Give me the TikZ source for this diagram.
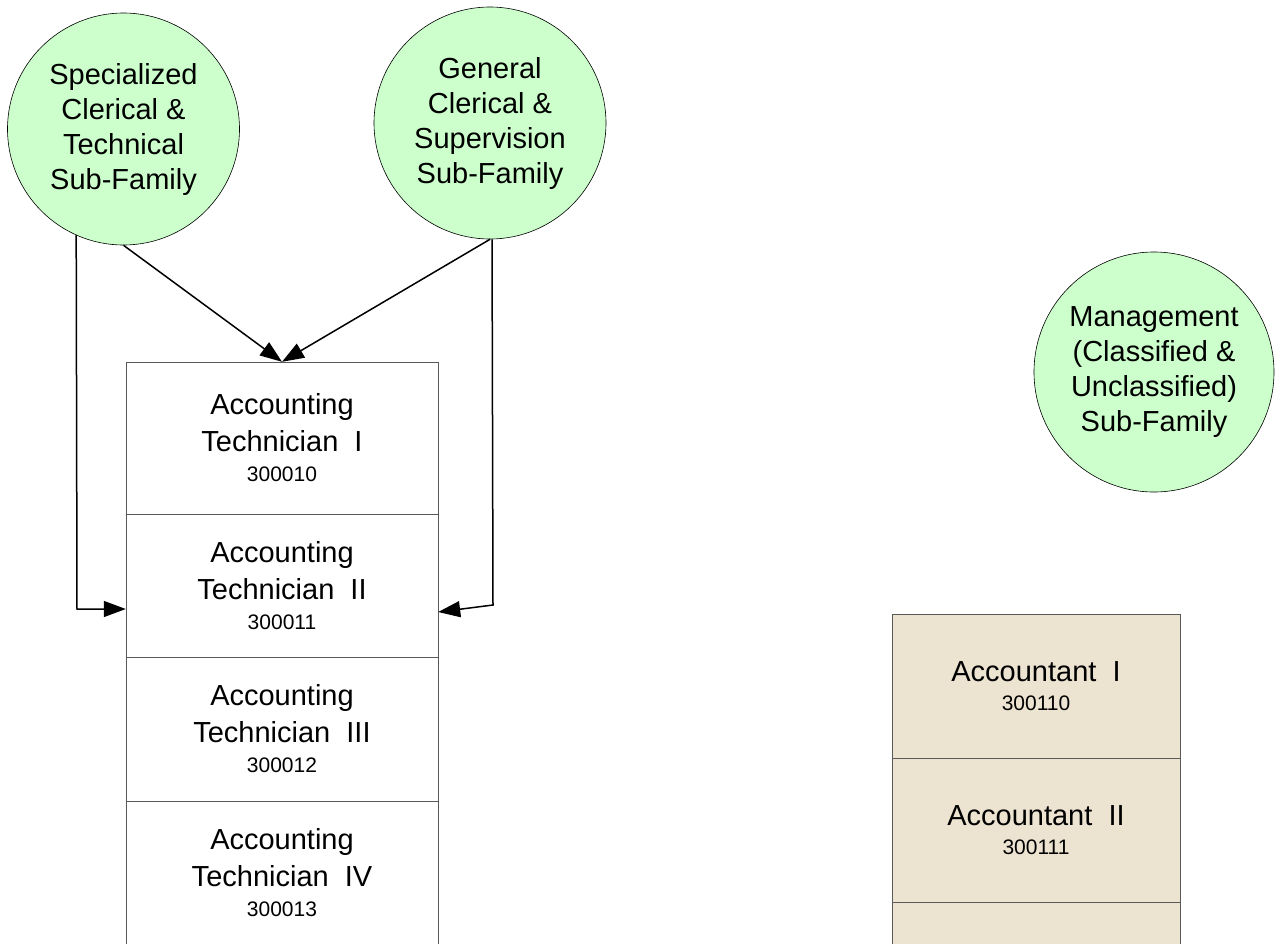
\documentclass[tikz,border=0pt]{standalone}
\usepackage{fontspec}
\setmainfont{Liberation Sans}
\usepackage{xcolor}
\usetikzlibrary{arrows.meta}

\definecolor{famgreen}{HTML}{CCFFCC}
\definecolor{acctan}{HTML}{EDE3D1}

\tikzset{
  family/.style={draw=black, line width=0.6pt, circle, fill=famgreen, minimum size=232pt, inner sep=0pt, align=center, font=\fontsize{29}{35}\selectfont},
  techcell/.style={draw=black!65, rectangle, fill=white, minimum width=312pt, minimum height=143.5pt, inner sep=0pt, align=center, font=\fontsize{29}{37}\selectfont},
  acctcell/.style={draw=black!65, rectangle, fill=acctan, minimum width=288pt, minimum height=144pt, inner sep=0pt, align=center, font=\fontsize{29}{37}\selectfont},
  link/.style={-{Triangle[length=22pt,width=16pt]}, line width=1.5pt},
}
\newcommand{\jobno}{\fontsize{21}{31}\selectfont}

\begin{document}
\begin{tikzpicture}[x=1pt, y=-1pt]
            \clip (0,0) rectangle (1275,943);
            \fill[white] (0,0) rectangle (1275,943);

            \node[family] (spec) at (123.5,129) {Specialized\\Clerical \&\\Technical\\Sub-Family};
            \node[family] (gen) at (490,123) {General\\Clerical \&\\Supervision\\Sub-Family};
            \node[family, minimum size=240pt] (mgmt) at (1154,372) {Management\\(Classified \&\\Unclassified)\\Sub-Family};

            \node[techcell, minimum height=152pt] (tech1) at (282,438) {Accounting\\Technician\ \ I\\[-7pt]\jobno 300010};
            \node[techcell] (tech2) at (282,585.5) {Accounting\\Technician\ \ II\\[-7pt]\jobno 300011};
            \node[techcell] (tech3) at (282,729) {Accounting\\Technician\ \ III\\[-7pt]\jobno 300012};
            \node[techcell] (tech4) at (282,872.5) {Accounting\\Technician\ \ IV\\[-7pt]\jobno 300013};

            \node[acctcell] (acct1) at (1036,686) {Accountant\ \ I\\[-8pt]\jobno 300110};
            \node[acctcell] (acct2) at (1036,830) {Accountant\ \ II\\[-8pt]\jobno 300111};
            \node[acctcell] (acct3) at (1036,974) {};

            \coordinate (specbend) at (77,609);
            \coordinate (genbend) at (493,605);

            \draw[link] (spec.south) -- (tech1.north);
            \draw[link] (gen.south) -- (tech1.north);
            \draw[link] (spec.246) -- (specbend) -- ([yshift=-23.5pt]tech2.west);
            \draw[link] (gen.271.5) -- (genbend) -- ([yshift=-26.5pt]tech2.east);
        \end{tikzpicture}
\end{document}
